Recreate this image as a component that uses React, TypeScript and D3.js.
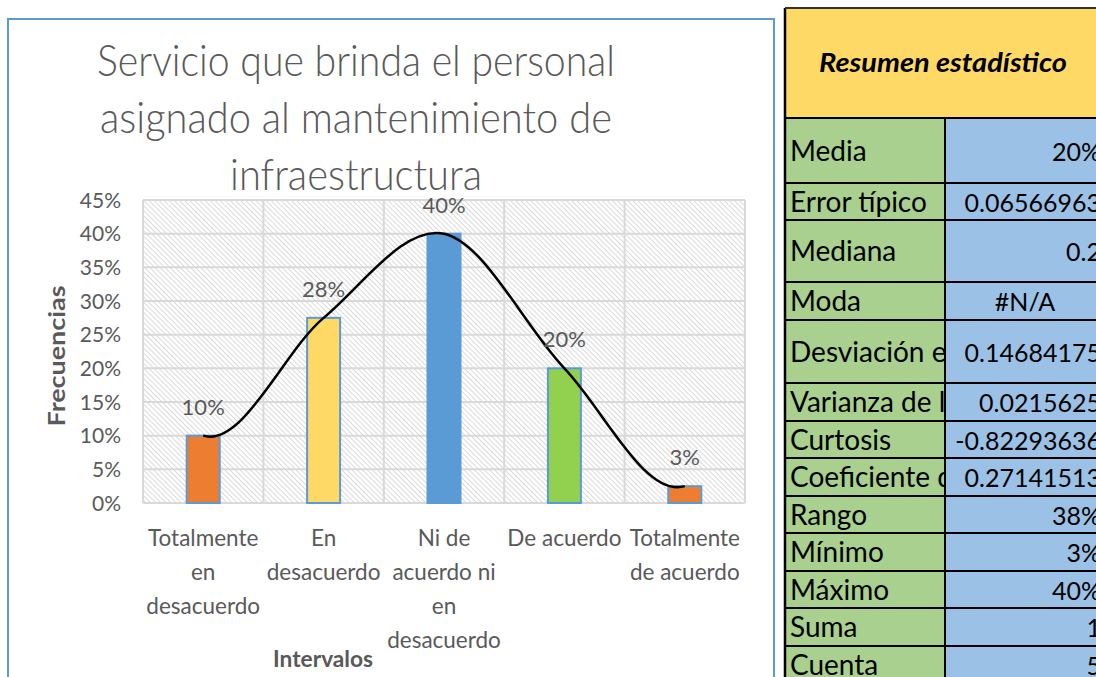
import React from "react";
import * as d3 from "d3";

// ---------- data ----------
const categories: string[][] = [
  ["Totalmente", "en", "desacuerdo"],
  ["En", "desacuerdo"],
  ["Ni de", "acuerdo ni", "en", "desacuerdo"],
  ["De acuerdo"],
  ["Totalmente", "de acuerdo"],
];
const frequencies = [0.1, 0.275, 0.4, 0.2, 0.025];
const barColors = ["#ED7D31", "#FFD966", "#5B9BD5", "#92D050", "#ED7D31"];
const yTicks = [0, 0.05, 0.1, 0.15, 0.2, 0.25, 0.3, 0.35, 0.4, 0.45];
const titleLines = [
  "Servicio que brinda el personal",
  "asignado al mantenimiento de",
  "infraestructura",
];
const titleWidths = [518, 512, 252];
const yAxisTitle = "Frecuencias";
const xAxisTitle = "Intervalos";

const tableTitle = "Resumen estadístico";
const statLabels = [
  "Media",
  "Error típico",
  "Mediana",
  "Moda",
  "Desviación estándar",
  "Varianza de la muestra",
  "Curtosis",
  "Coeficiente de asimetría",
  "Rango",
  "Mínimo",
  "Máximo",
  "Suma",
  "Cuenta",
];
const statValues = [
  "20%",
  "0.06566963",
  "0.2",
  "#N/A",
  "0.14684175",
  "0.0215625",
  "-0.82293636",
  "0.27141513",
  "38%",
  "3%",
  "40%",
  "1",
  "5",
];
const statRowHeights = [65, 37, 62, 38, 63, 38, 37, 38, 37, 38, 37, 38, 37];

// ---------- layout ----------
const W = 1096;
const H = 677;
const plot = { left: 143, right: 745, top: 200, bottom: 503 };
const GRAY = "#595959";
const FONT = "Lato, 'Open Sans', 'Noto Sans', sans-serif";

// smooth Hermite curve through the points (Catmull-Rom inside, soft ends)
function smoothPath(pts: [number, number][]): string {
  const n = pts.length;
  const T: [number, number][] = pts.map((p, i) => {
    if (i === 0) {
      const q = pts[1];
      return [q[0] - p[0], -(q[1] - p[1]) * 0.3];
    }
    if (i === n - 1) {
      const q = pts[n - 2];
      return [p[0] - q[0], -(p[1] - q[1]) * 0.3];
    }
    return [(pts[i + 1][0] - pts[i - 1][0]) / 2, (pts[i + 1][1] - pts[i - 1][1]) / 2];
  });
  const path = d3.path();
  path.moveTo(pts[0][0], pts[0][1]);
  for (let i = 0; i < n - 1; i++) {
    const a = pts[i];
    const b = pts[i + 1];
    path.bezierCurveTo(
      a[0] + T[i][0] / 3,
      a[1] + T[i][1] / 3,
      b[0] - T[i + 1][0] / 3,
      b[1] - T[i + 1][1] / 3,
      b[0],
      b[1]
    );
  }
  return path.toString();
}

export default function App() {
  const x = d3
    .scaleBand<number>()
    .domain(d3.range(frequencies.length))
    .range([plot.left, plot.right])
    .paddingInner(0)
    .paddingOuter(0);
  const y = d3.scaleLinear().domain([0, 0.45]).range([plot.bottom, plot.top]);
  const fmt = d3.format(".0%");
  const cx = (i: number) => (x(i) as number) + x.bandwidth() / 2;

  const curvePts = frequencies.map((v, i) => [cx(i), y(v)] as [number, number]);

  const barW = 33;

  // table layout
  const tLeft = 785;
  const tTop = 8;
  const headH = 110;
  const colSplit = 945;
  const tRight = 1105;
  const rowTops: number[] = [];
  let acc = tTop + headH;
  statRowHeights.forEach((h) => {
    rowTops.push(acc);
    acc += h;
  });

  return (
    <svg
      width={W}
      height={H}
      style={{ position: "absolute", left: 0, top: 0, background: "#fff" }}
      fontFamily={FONT}
    >
      <defs>
        <pattern
          id="hatch"
          width={3.6}
          height={3.6}
          patternUnits="userSpaceOnUse"
          patternTransform="rotate(45)"
        >
          <rect width={3.6} height={3.6} fill="#ffffff" />
          <line x1={0} y1={0.5} x2={3.6} y2={0.5} stroke="#d9d9d9" strokeWidth={1} />
        </pattern>
        <clipPath id="labelCol">
          <rect x={tLeft} y={0} width={colSplit - tLeft} height={H} />
        </clipPath>
      </defs>

      {/* chart frame */}
      <rect x={8} y={19} width={766} height={H + 20} fill="#fff" stroke="#5B9BD5" strokeWidth={2} />

      {/* title */}
      {titleLines.map((t, i) => (
        <text
          key={t}
          x={356}
          y={76 + i * 57}
          textAnchor="middle"
          fontSize={44}
          fontWeight={300}
          fill={GRAY}
          textLength={titleWidths[i]}
          lengthAdjust="spacingAndGlyphs"
        >
          {t}
        </text>
      ))}

      {/* plot area */}
      <rect
        x={plot.left}
        y={plot.top}
        width={plot.right - plot.left}
        height={plot.bottom - plot.top}
        fill="url(#hatch)"
      />
      {yTicks.map((t) => (
        <line
          key={"h" + t}
          x1={plot.left}
          x2={plot.right}
          y1={y(t)}
          y2={y(t)}
          stroke="#d9d9d9"
          strokeWidth={2}
        />
      ))}
      {d3.range(frequencies.length + 1).map((i) => {
        const xx = i < frequencies.length ? (x(i) as number) : plot.right;
        return (
          <line
            key={"v" + i}
            x1={xx}
            x2={xx}
            y1={plot.top}
            y2={plot.bottom}
            stroke="#d9d9d9"
            strokeWidth={2}
          />
        );
      })}

      {/* y tick labels */}
      {yTicks.map((t) => (
        <text key={"yt" + t} x={121} y={y(t) + 7.5} textAnchor="end" fontSize={21} fill={GRAY}>
          {fmt(t)}
        </text>
      ))}

      {/* bars */}
      {frequencies.map((v, i) => (
        <rect
          key={"b" + i}
          x={cx(i) - barW / 2}
          y={y(v)}
          width={barW}
          height={y(0) - y(v)}
          fill={barColors[i]}
          stroke="#5B9BD5"
          strokeWidth={2}
        />
      ))}

      {/* smooth line */}
      <path d={smoothPath(curvePts)} fill="none" stroke="#000" strokeWidth={2.5} />

      {/* data labels */}
      {frequencies.map((v, i) => (
        <text
          key={"dl" + i}
          x={cx(i)}
          y={y(v) - 21}
          textAnchor="middle"
          fontSize={22}
          fill={GRAY}
        >
          {fmt(v)}
        </text>
      ))}

      {/* x labels */}
      {categories.map((lines, i) =>
        lines.map((l, j) => (
          <text
            key={"xl" + i + "-" + j}
            x={cx(i)}
            y={546 + j * 34}
            textAnchor="middle"
            fontSize={22.5}
            fill={GRAY}
          >
            {l}
          </text>
        ))
      )}

      {/* axis titles */}
      <text
        transform={`translate(65,356) rotate(-90)`}
        textAnchor="middle"
        fontSize={22}
        fontWeight={700}
        fill={GRAY}
        textLength={141}
        lengthAdjust="spacingAndGlyphs"
      >
        {yAxisTitle}
      </text>
      <text
        x={323}
        y={667}
        textAnchor="middle"
        fontSize={22}
        fontWeight={700}
        fill={GRAY}
        textLength={100}
        lengthAdjust="spacingAndGlyphs"
      >
        {xAxisTitle}
      </text>

      {/* ---------- statistics table ---------- */}
      <rect x={tLeft} y={tTop} width={tRight - tLeft} height={headH} fill="#FFD966" />
      <text
        x={943}
        y={72}
        textAnchor="middle"
        fontSize={27}
        fontWeight={700}
        fontStyle="italic"
        fill="#000"
        textLength={248}
        lengthAdjust="spacingAndGlyphs"
      >
        {tableTitle}
      </text>
      {statLabels.map((lab, i) => {
        const top = rowTops[i];
        const h = statRowHeights[i];
        const v = statValues[i];
        const centered = v.startsWith("#");
        return (
          <g key={"row" + i}>
            <rect x={tLeft} y={top} width={colSplit - tLeft} height={h} fill="#A9D08E" />
            <rect x={colSplit} y={top} width={tRight - colSplit} height={h} fill="#9BC2E6" />
            <text
              x={790}
              y={top + h / 2 + 10}
              fontSize={28}
              fill="#000"
              clipPath="url(#labelCol)"
            >
              {lab}
            </text>
            <text
              x={centered ? (colSplit + tRight) / 2 : 1101}
              y={top + h / 2 + 10}
              textAnchor={centered ? "middle" : "end"}
              fontSize={25}
              fill="#000"
            >
              {v}
            </text>
            <line x1={tLeft} x2={tRight} y1={top} y2={top} stroke="#000" strokeWidth={2} />
          </g>
        );
      })}
      <line x1={tLeft} x2={tRight} y1={acc} y2={acc} stroke="#000" strokeWidth={2} />
      <line x1={colSplit} x2={colSplit} y1={tTop + headH} y2={acc} stroke="#000" strokeWidth={2} />
      <line x1={tLeft} x2={tLeft} y1={tTop} y2={H + 10} stroke="#000" strokeWidth={2.5} />
      <line x1={tLeft} x2={tRight} y1={tTop} y2={tTop} stroke="#333" strokeWidth={2} />
    </svg>
  );
}
